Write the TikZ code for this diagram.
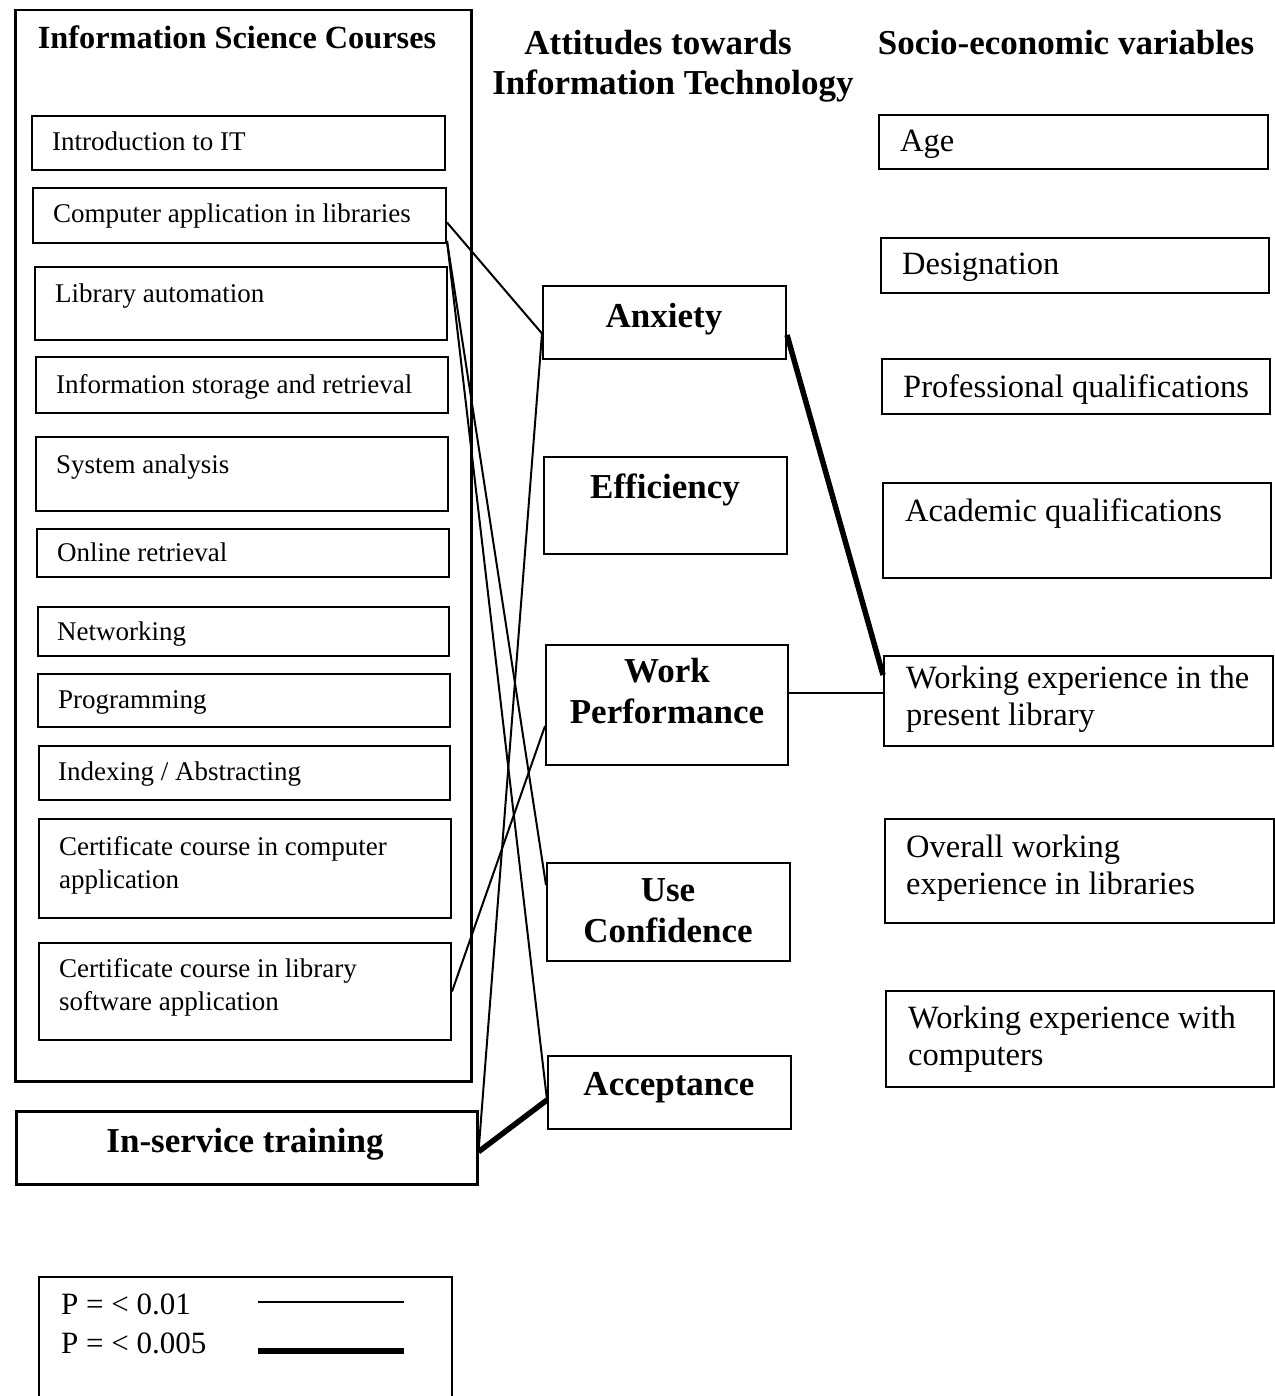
\documentclass[tikz,border=0pt]{standalone}
\usepackage{fontspec}
\setmainfont{Liberation Serif}
\begin{document}
\begin{tikzpicture}[x=1pt,y=1pt,
  box/.style={draw, line width=2pt, rectangle, anchor=north west, inner sep=0pt},
  lt/.style={font=\fontsize{27}{33}\selectfont, inner sep=0pt, anchor=base west, align=flush left, text width=400pt},
  rt/.style={font=\fontsize{32.5}{37}\selectfont, inner sep=0pt, anchor=base west, align=flush left, text width=370pt},
  mt/.style={font=\bfseries\fontsize{35}{41}\selectfont, inner sep=0pt, anchor=base, align=flush center, text width=240pt},
  ht/.style={font=\bfseries\fontsize{35}{41}\selectfont, inner sep=0pt, anchor=base},
  thin/.style={line width=2pt},
  thick/.style={line width=5.5pt}]
\useasboundingbox (0,0) rectangle (1274,-1396);

% outer box
\node[box, line width=2.5pt, minimum width=456pt, minimum height=1071pt] (isc) at (14,-9) {};
\node[ht, font=\bfseries\fontsize{32.3}{38}\selectfont] (isch) at (237,-49) {Information Science Courses};

% course boxes
\node[box, minimum width=413pt, minimum height=54pt] (intro) at (31,-115) {};
\node[box, minimum width=413pt, minimum height=55pt] (capp) at (32,-187) {};
\node[box, minimum width=412pt, minimum height=73pt] (lauto) at (34,-266) {};
\node[box, minimum width=412pt, minimum height=56pt] (isr) at (35,-356) {};
\node[box, minimum width=412pt, minimum height=74pt] (sysan) at (35,-436) {};
\node[box, minimum width=412pt, minimum height=48pt] (online) at (36,-528) {};
\node[box, minimum width=411pt, minimum height=49pt] (net) at (37,-606) {};
\node[box, minimum width=412pt, minimum height=53pt] (prog) at (37,-673) {};
\node[box, minimum width=411pt, minimum height=54pt] (index) at (38,-745) {};
\node[box, minimum width=412pt, minimum height=99pt] (ccomp) at (38,-818) {};
\node[box, minimum width=412pt, minimum height=97pt] (clib) at (38,-942) {};
\node[box, line width=2.5pt, minimum width=461pt, minimum height=73pt] (ist) at (15,-1110) {};

\node[lt] (introt) at (52,-151) {Introduction to IT};
\node[lt] (cappt) at (53,-223) {Computer application in libraries};
\node[lt] (lautot) at (55,-302) {Library automation};
\node[lt] (isrt) at (56,-393) {Information storage and retrieval};
\node[lt] (sysant) at (56,-473) {System analysis};
\node[lt] (onlinet) at (57,-561) {Online retrieval};
\node[lt] (nett) at (57,-640) {Networking};
\node[lt] (progt) at (58,-708) {Programming};
\node[lt] (indext) at (58,-780) {Indexing / Abstracting};
\node[lt] (ccompt) at (59,-855) {Certificate course in computer\\application};
\node[lt] (clibt) at (59,-977) {Certificate course in library\\software application};
\node[ht] (istt) at (245,-1152) {In-service training};

% middle
\node[ht] (ath1) at (658,-55) {Attitudes towards};
\node[ht] (ath2) at (673,-95) {Information Technology};
\node[box, minimum width=243pt, minimum height=73pt] (anx) at (542,-285) {};
\node[box, minimum width=243pt, minimum height=97pt] (eff) at (543,-456) {};
\node[box, minimum width=242pt, minimum height=120pt] (wp) at (545,-644) {};
\node[box, minimum width=243pt, minimum height=98pt] (uc) at (546,-862) {};
\node[box, minimum width=243pt, minimum height=73pt] (acc) at (547,-1055) {};
\node[mt] (anxt) at (664,-327) {Anxiety};
\node[mt] (efft) at (665,-498) {Efficiency};
\node[mt] (wpt) at (667,-682) {Work\\Performance};
\node[mt] (uct) at (668,-901) {Use\\Confidence};
\node[mt] (acct) at (669,-1095) {Acceptance};

% right
\node[ht] (seh) at (1066,-55) {Socio-economic variables};
\node[box, minimum width=389pt, minimum height=54pt] (age) at (878,-114) {};
\node[box, minimum width=388pt, minimum height=55pt] (desig) at (880,-237) {};
\node[box, minimum width=388pt, minimum height=55pt] (prof) at (881,-358) {};
\node[box, minimum width=388pt, minimum height=95pt] (acad) at (882,-482) {};
\node[box, minimum width=389pt, minimum height=90pt] (wexp) at (883,-655) {};
\node[box, minimum width=389pt, minimum height=104pt] (owexp) at (884,-818) {};
\node[box, minimum width=388pt, minimum height=96pt] (wcomp) at (885,-990) {};
\node[rt] (aget) at (900,-152) {Age};
\node[rt] (desigt) at (902,-275) {Designation};
\node[rt] (proft) at (903,-397) {Professional qualifications};
\node[rt] (acadt) at (905,-521) {Academic qualifications};
\node[rt] (wexpt) at (906,-688) {Working experience in the\\present library};
\node[rt] (owexpt) at (906,-857) {Overall working\\experience in libraries};
\node[rt] (wcompt) at (908,-1028) {Working experience with\\computers};

% connectors
\draw[thin] ([yshift=-7pt]capp.east) -- ([yshift=-11pt]anx.west);
\draw[thin] ([yshift=3pt]capp.south east) -- ([yshift=-23pt]uc.north west);
\draw[thin] ([yshift=3pt]capp.south east) -- ([yshift=-45pt]acc.north west);
\draw[thin] ([yshift=-11pt]anx.west) -- ([yshift=-4pt]ist.east);
\draw[thin] (clib.east) -- ([yshift=-21pt]wp.west);
\draw[thick] ([yshift=-45pt]acc.north west) -- ([yshift=-4pt]ist.east);
\draw[thick] ([yshift=-50pt]anx.north east) -- ([yshift=-20pt]wexp.north west);
\draw[thin] ([yshift=12pt]wp.east) -- ([yshift=12pt]wp.east -| wexp.west);

% legend
\draw[line width=2pt] (39,-1396) -- (39,-1277) -- (452,-1277) -- (452,-1396);
\node[lt, font=\fontsize{31}{38}\selectfont, text width=180pt] (lg1) at (61,-1314) {P = < 0.01};
\node[lt, font=\fontsize{31}{38}\selectfont, text width=180pt] (lg2) at (61,-1353) {P = < 0.005};
\coordinate (l1a) at (258,-1302);
\coordinate (l1b) at (404,-1302);
\coordinate (l2a) at (258,-1351);
\coordinate (l2b) at (404,-1351);
\draw[thin] (l1a) -- (l1b);
\draw[thick] (l2a) -- (l2b);
\end{tikzpicture}
\end{document}
